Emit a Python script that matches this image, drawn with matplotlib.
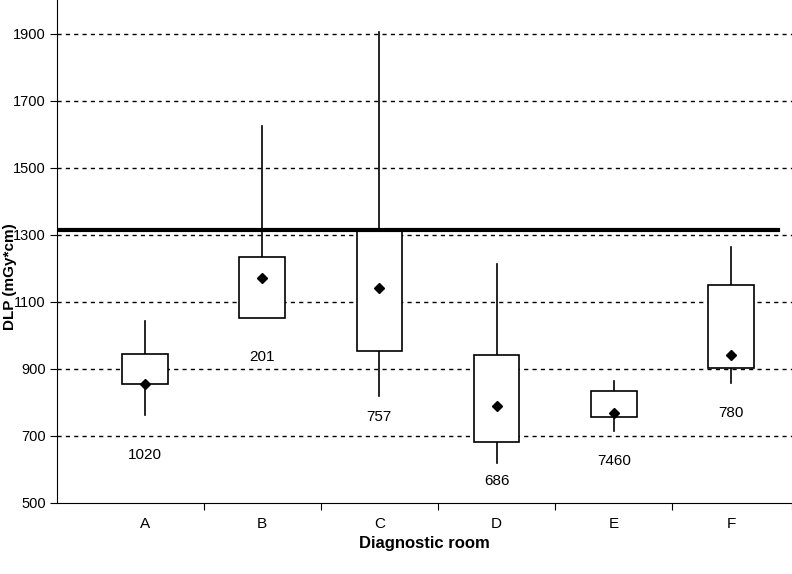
import matplotlib
matplotlib.use("Agg")
import matplotlib.pyplot as plt
from matplotlib.patches import Rectangle

rooms = ["A", "B", "C", "D", "E", "F"]
whisk_low = [763, 1052, 820, 620, 716, 858]
box_low = [855, 1052, 954, 683, 755, 903]
box_high = [945, 1234, 1310, 940, 833, 1151]
whisk_high = [1043, 1623, 1905, 1213, 864, 1264]
means = [855, 1172, 1140, 790, 768, 942]
counts = ["1020", "201", "757", "686", "7460", "780"]
count_y = [643, 936, 757, 566, 625, 769]
reference = 1315
yticks = [500, 700, 900, 1100, 1300, 1500, 1700, 1900]

fig = plt.figure(figsize=(7.92, 5.74), dpi=100)
ax = fig.add_axes([57/792, 71/574, 1 - 57/792, 1 - 71/574])
ax.set_xlim(-0.75, 5.52)
ax.set_ylim(500, 2000)
for y in yticks[1:]:
    ax.axhline(y, color="black", ls=(0, (3, 3)), lw=1, zorder=0)
w = 0.39
for i in range(len(rooms)):
    ax.plot([i, i], [whisk_low[i], box_low[i]], color="black", lw=1.2, zorder=2)
    ax.plot([i, i], [box_high[i], whisk_high[i]], color="black", lw=1.2, zorder=2)
    ax.add_patch(Rectangle((i - w/2, box_low[i]), w, box_high[i] - box_low[i],
                           facecolor="white", edgecolor="black", lw=1.2, zorder=3))
    ax.plot(i, means[i], marker="D", color="black", ms=5, zorder=4)
    ax.text(i, count_y[i], counts[i], ha="center", va="center", fontsize=11,
            family="Liberation Sans")
ax.plot([-0.75, 5.4], [reference, reference], color="black", lw=3, zorder=5)
ax.spines["top"].set_visible(False)
ax.spines["right"].set_visible(False)
ax.set_yticks(yticks)
ax.set_yticklabels([str(v) for v in yticks], fontsize=10.5, family="Liberation Sans")
ax.set_xticks([i + 0.5 for i in range(5)] + [5.52])
ax.set_xticklabels([""] * 6)
ax.set_xticks(range(6), minor=True)
ax.set_xticklabels(rooms, minor=True, fontsize=11, family="Liberation Sans")
ax.tick_params(axis="x", which="minor", length=0, pad=10)
ax.tick_params(axis="both", which="major", direction="out", length=5, pad=3)
ax.set_xlabel("Diagnostic room", fontsize=12, fontweight="bold", family="Liberation Sans")
ax.set_ylabel("DLP (mGy*cm)", fontsize=11, fontweight="bold", family="Liberation Sans")
ax.yaxis.set_label_coords(-0.055, 0.45)
fig.savefig("out.png", dpi=100)
